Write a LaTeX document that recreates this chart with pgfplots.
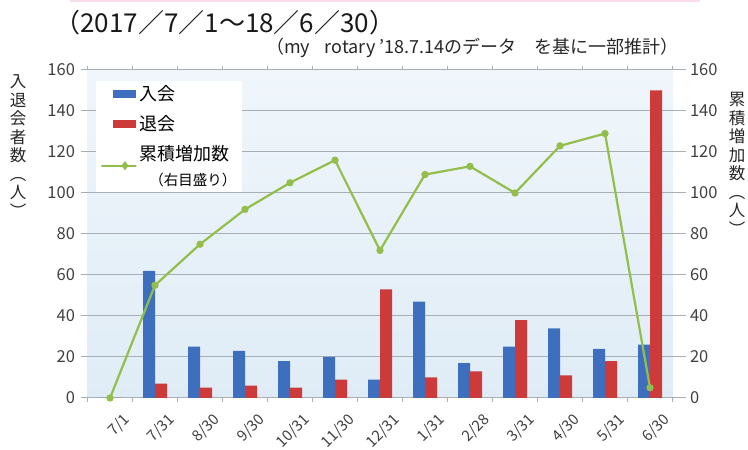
\documentclass[border=0pt]{standalone}
\usepackage{fontspec}
\setmainfont{Noto Sans CJK JP}
\usepackage{pgfplots}
\pgfplotsset{compat=1.18}

\definecolor{nyukai}{HTML}{3E6FBF}
\definecolor{taikai}{HTML}{CC3A3A}
\definecolor{ruiseki}{HTML}{94BE4B}
\definecolor{gridc}{HTML}{A8AEB4}
\definecolor{tickc}{HTML}{404040}
\definecolor{bgtop}{HTML}{F0F6FB}
\definecolor{bgbot}{HTML}{DFECF6}
\definecolor{pinkline}{HTML}{F8DCEC}

\pgfplotsset{
  common/.style={
    scale only axis, width=585pt, height=328pt,
    at={(87.5pt,52pt)}, anchor=south west,
    xmin=-0.5, xmax=12.5, ymin=0, ymax=160,
    ytick={0,20,...,160},
    tick align=outside, major tick length=6pt,
    y tick style={gridc, line width=1pt},
    yticklabel style={font=\fontsize{16.5}{16.5}\selectfont, text=tickc},
    /pgf/number format/assume math mode=true,
  },
}

\begin{document}
\begin{tikzpicture}[x=1pt,y=1pt]
\useasboundingbox (0,0) rectangle (748,450);
\draw[pinkline, line width=3pt] (70,449) -- (700,449);

\begin{axis}[
  common,
  ybar=0pt, bar width=12pt,
  axis line style={draw=none},
  ymajorgrids, major grid style={gridc, line width=1pt},
  yticklabel style={xshift=-3pt},
  xtick={0,...,12},
  xticklabels={7/1,7/31,8/30,9/30,10/31,11/30,12/31,1/31,2/28,3/31,4/30,5/31,6/30},
  x tick style={draw=none},
  minor xtick={-0.5,0.5,...,12.5},
  minor tick length=4pt,
  minor x tick style={gridc, line width=1pt, draw=gridc},
  xticklabel style={rotate=45, anchor=north east, font=\fontsize{15}{15}\selectfont,
                    text=tickc, inner sep=0pt, xshift=3pt, yshift=-14pt},
  axis background/.style={top color=bgtop, bottom color=bgbot},
  legend style={at={(0.015,0.968)}, anchor=north west, draw=none, fill=white,
                font=\fontsize{18}{19}\selectfont, row sep=9pt,
                inner xsep=4pt, inner ysep=3pt,
                cells={anchor=west, align=left}},
]
\addplot[fill=nyukai, draw=none,
  legend image code/.code={\fill[nyukai] (-4pt,-4pt) rectangle (19pt,4pt);}]
  coordinates {(0,0) (1,62) (2,25) (3,23) (4,18) (5,20) (6,9)
               (7,47) (8,17) (9,25) (10,34) (11,24) (12,26)};
\addplot[fill=taikai, draw=none,
  legend image code/.code={\fill[taikai] (-4pt,-4pt) rectangle (19pt,4pt);}]
  coordinates {(0,0) (1,7) (2,5) (3,6) (4,5) (5,9) (6,53)
               (7,10) (8,13) (9,38) (10,11) (11,18) (12,150)};
\addlegendimage{
  legend image code/.code={
    \draw[ruiseki, line width=2pt, mark=diamond*, mark size=3pt,
          mark repeat=2, mark phase=2]
      plot coordinates {(-4pt,0pt) (7.5pt,0pt) (19pt,0pt)};}}
\legend{入会, 退会, 累積増加数\\[6pt]\hspace*{0.55em}{\fontsize{14.5}{16}\selectfont（右目盛り）}}
\end{axis}

\begin{axis}[
  common,
  axis x line=none,
  axis y line*=right,
  y axis line style={draw=none},
  major tick length=13pt,
  yticklabel style={xshift=1pt},
]
\addplot[ruiseki, line width=2.2pt, mark=*, mark size=2.5pt]
  coordinates {(0,0) (1,55) (2,75) (3,92) (4,105) (5,116) (6,72)
               (7,109) (8,113) (9,100) (10,123) (11,129) (12,5)};
\end{axis}

\node[anchor=west, font=\fontsize{26}{26}\selectfont, text=black!90] at (51,427)
  {（2017／7／1～18／6／30）};
\node[anchor=east, font=\fontsize{18}{18}\selectfont, text=black!85] at (682,402)
  {（my\hspace{0.8em}rotary '18.7.14のデータ\hspace{1em}を基に一部推計）};
\node[align=center, font=\fontsize{16.5}{18.5}\selectfont, text=black!85] at (18,304)
  {入\\退\\会\\者\\数\\︵\\人\\︶};
\node[align=center, font=\fontsize{16.5}{18.5}\selectfont, text=black!85] at (737,286)
  {累\\積\\増\\加\\数\\︵\\人\\︶};
\end{tikzpicture}
\end{document}
